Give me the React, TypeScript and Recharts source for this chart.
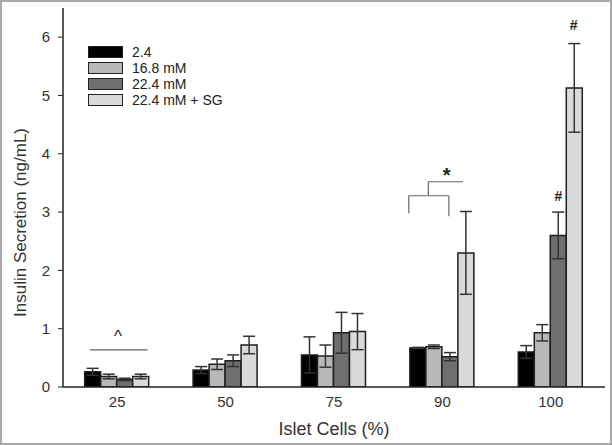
import React from 'react';
import { BarChart, Bar, XAxis, YAxis, ErrorBar, ReferenceLine, ReferenceDot, Label } from 'recharts';

const categories = ['25', '50', '75', '90', '100'];
const s24 = [0.26, 0.29, 0.55, 0.67, 0.60];
const e24 = [0.06, 0.06, 0.31, 0.01, 0.11];
const s168 = [0.18, 0.39, 0.53, 0.69, 0.93];
const e168 = [0.04, 0.09, 0.19, 0.03, 0.14];
const s224 = [0.13, 0.45, 0.93, 0.52, 2.60];
const e224 = [0.02, 0.10, 0.35, 0.07, 0.40];
const sSG = [0.18, 0.72, 0.95, 2.30, 5.13];
const eSG = [0.04, 0.15, 0.31, 0.71, 0.76];
const yTicks = [0, 1, 2, 3, 4, 5, 6];

const seriesNames = ['2.4', '16.8 mM', '22.4 mM', '22.4 mM + SG'];
const seriesKeys = ['a', 'b', 'c', 'd'];
const seriesColors = ['#000000', '#b8b8b8', '#6f6f6f', '#dadada'];

// annotation positions in data coordinates (x: 0..5 across categories)
const caretSegments = [[{ x: 0.25, y: 0.635 }, { x: 0.78, y: 0.635 }]];
const bracketSegments = [
  [{ x: 3.19, y: 2.98 }, { x: 3.19, y: 3.28 }],
  [{ x: 3.19, y: 3.28 }, { x: 3.56, y: 3.28 }],
  [{ x: 3.56, y: 3.28 }, { x: 3.56, y: 2.93 }],
  [{ x: 3.37, y: 3.28 }, { x: 3.37, y: 3.52 }],
  [{ x: 3.37, y: 3.52 }, { x: 3.69, y: 3.52 }],
];
const marks = [
  { x: 0.507, y: 0.87, t: '^' },
  { x: 3.54, y: 3.64, t: '*' },
  { x: 4.57, y: 3.28, t: '#' },
  { x: 4.71, y: 6.2, t: '#' },
];

const data = categories.map((c, i) => ({
  cat: c,
  pos: i + 0.5,
  a: s24[i], ea: e24[i],
  b: s168[i], eb: e168[i],
  c: s224[i], ec: e224[i],
  d: sSG[i], ed: eSG[i],
}));

const font = '"Liberation Sans", Arial, sans-serif';

const LegendBox = () => (
  <div style={{ position: 'absolute', left: 88, top: 44, fontFamily: font, fontSize: 14, color: '#222' }}>
    {seriesNames.map((n, i) => (
      <div key={n} style={{ display: 'flex', alignItems: 'center', height: 16 }}>
        <div style={{ width: 33, height: 10, background: seriesColors[i], border: '1px solid #222', marginRight: 9 }} />
        <span>{n}</span>
      </div>
    ))}
  </div>
);

export default function App() {
  return (
    <div style={{ position: 'absolute', left: 0, top: 0, width: 612, height: 445, background: '#fff' }}>
      <BarChart
        width={612}
        height={445}
        data={data}
        margin={{ top: 8, right: 7, left: 8, bottom: 0 }}
        barCategoryGap="20%"
        barGap={0}
        style={{ fontFamily: font }}
      >
        <XAxis
          dataKey="cat"
          height={58}
          tickLine={false}
          axisLine={{ stroke: '#222', strokeWidth: 1.5 }}
          tick={{ fontSize: 15, fill: '#333', fontFamily: font }}
          tickMargin={3}
        >
          <Label value="Islet Cells (%)" position="insideBottom" offset={10} style={{ fontSize: 18, fill: '#333', fontFamily: font }} />
        </XAxis>
        <XAxis xAxisId="top" dataKey="cat" orientation="top" height={0} tick={false} tickLine={false} axisLine={{ stroke: '#555', strokeWidth: 2 }} />
        <XAxis xAxisId="num" dataKey="pos" type="number" domain={[0, 5]} allowDataOverflow hide />
        <YAxis
          width={55}
          domain={[0, 6.5]}
          ticks={yTicks}
          interval={0}
          allowDataOverflow
          tickSize={5}
          tickMargin={8}
          tickLine={{ stroke: '#222' }}
          axisLine={{ stroke: '#222', strokeWidth: 1.5 }}
          tick={{ fontSize: 15, fill: '#333', fontFamily: font }}
        >
          <Label value="Insulin Secretion (ng/mL)" angle={-90} position="center" dx={-16} dy={25} style={{ fontSize: 17, fill: '#333', fontFamily: font, textAnchor: 'middle' }} />
        </YAxis>
        <YAxis yAxisId="right" orientation="right" width={0} domain={[0, 6.5]} tick={false} tickLine={false} axisLine={{ stroke: '#555', strokeWidth: 2 }} />
        {seriesKeys.map((k, i) => (
          <Bar key={k} dataKey={k} name={seriesNames[i]} fill={seriesColors[i]} stroke="#1e1e1e" strokeWidth={1.5} isAnimationActive={false}>
            <ErrorBar dataKey={'e' + k} width={6} stroke="#333" strokeWidth={1.5} />
          </Bar>
        ))}
        {caretSegments.concat(bracketSegments).map((seg, i) => (
          <ReferenceLine key={'s' + i} xAxisId="num" segment={seg} stroke="#666" strokeWidth={1.2} ifOverflow="visible" />
        ))}
        {marks.map((m, i) => (
          <ReferenceDot
            key={'m' + i}
            xAxisId="num"
            x={m.x}
            y={m.y}
            r={1}
            fill="none"
            stroke="none"
            ifOverflow="visible"
            label={{ value: m.t, position: 'center', fontSize: m.t === '#' ? 14 : m.t === '^' ? 17 : 20, fontWeight: m.t === '^' ? 'normal' : 'bold', fill: '#222', fontFamily: font }}
          />
        ))}
      </BarChart>
      <LegendBox />
      <div style={{ position: 'absolute', left: 0, top: 0, width: 612, height: 445, boxSizing: 'border-box', border: '2px solid #a8a8a8', pointerEvents: 'none' }} />
    </div>
  );
}
